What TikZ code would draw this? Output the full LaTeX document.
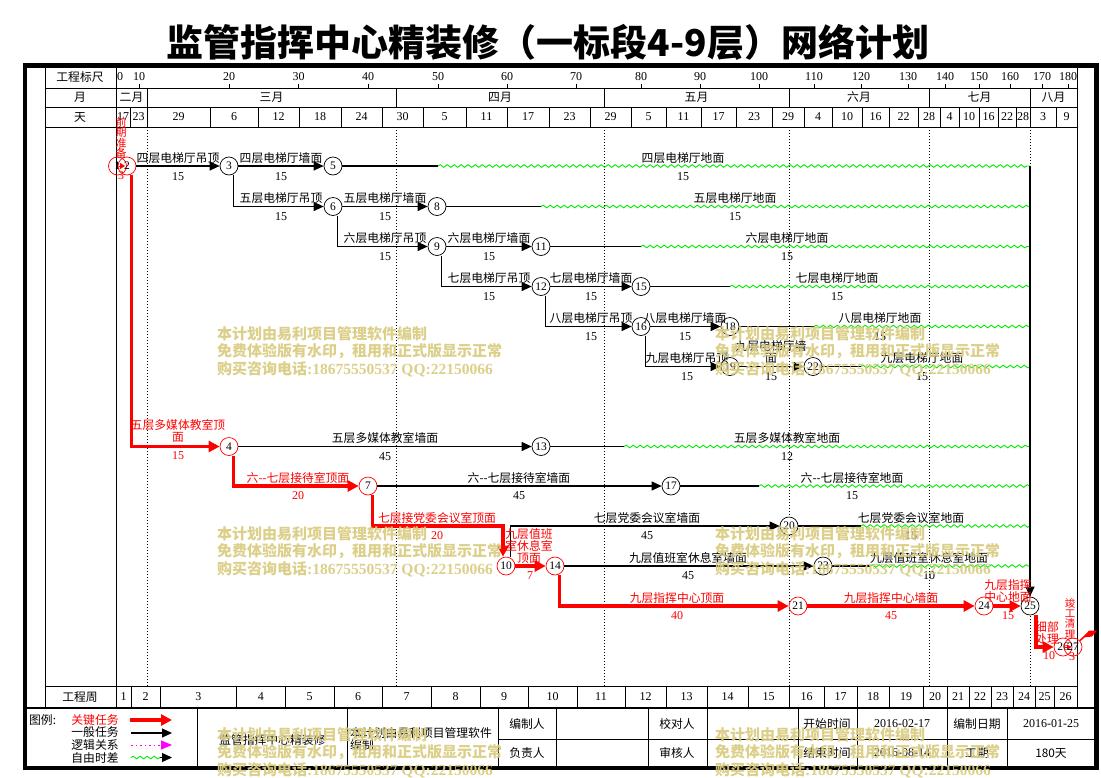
\documentclass[tikz,border=0pt]{standalone}
\usepackage{fontspec}
\setmainfont{Noto Sans CJK SC}
\newfontfamily\numf{Liberation Serif}
\usetikzlibrary{arrows.meta,decorations.pathmorphing,calc}
\definecolor{wmc}{RGB}{216,203,128}
\definecolor{grn}{RGB}{0,235,0}
\definecolor{mag}{RGB}{255,0,255}
\newcommand\wmark[3]{%
  \node[wm] (#1a) at (#2,#3) {本计划由易利项目管理软件编制};
  \node[wm] (#1b) at (#2,#3+17.5) {免费体验版有水印，租用和正式版显示正常};
  \node[wm] (#1c) at (#2,#3+35) {购买咨询电话{\numf\bfseries\fontsize{15.5}{15}\selectfont:18675550537 QQ:22150066}};}
\begin{document}
\begin{tikzpicture}[x=1pt,y=-1pt,
 lab/.style={font=\fontsize{11.8}{12}\selectfont, inner sep=0pt, align=center},
 rlab/.style={lab, text=red},
 dnum/.style={font=\numf\fontsize{12}{12}\selectfont, inner sep=0pt},
 rnum/.style={dnum, text=red},
 evt/.style={circle, draw=black, line width=0.7pt, fill=white, minimum size=18pt, inner sep=0pt, font=\numf\fontsize{11.5}{12}\selectfont},
 revt/.style={evt, draw=red},
 oevt/.style={evt, fill=none, draw=red},
 tedge/.style={line width=1.1pt, -{Triangle[length=10pt,width=9pt]}},
 crit/.style={line width=3.2pt, red, -{Triangle[length=11pt,width=11pt]}},
 flt/.style={line width=1.1pt},
 wave/.style={grn, line width=0.9pt, decorate, decoration={snake, amplitude=1.3pt, segment length=7pt}},
 gline/.style={line width=0.8pt},
 mline/.style={dash pattern=on 0.8pt off 2.2pt, line width=0.8pt},
 wm/.style={font=\fontsize{15}{15}\selectfont\bfseries, text=wmc, anchor=west, inner sep=0pt, text opacity=0.92}
]
\useasboundingbox (0,0) rectangle (1101,777);

% title
\node[font=\fontsize{37}{37}\selectfont\bfseries, inner sep=0pt] (title) at (548,42) {监管指挥中心精装修（一标段4-9层）网络计划};

% frame and grid
\draw[line width=4.5pt] (25,65.5) rectangle (1096.5,768);
\draw[gline] (45,65.5) -- (45,708);
\draw[gline] (116,65.5) -- (116,708);
\draw[gline] (1077,65.5) -- (1077,708);
\draw[gline] (45,88) -- (1077,88);
\draw[gline] (45,107) -- (1077,107);
\draw[gline] (45,127) -- (1077,127);
\draw[gline] (45,686) -- (1077,686);
\draw[line width=2.5pt] (25,708) -- (1096.5,708);

\node[lab] (h1) at (80,77) {工程标尺};
\node[lab] (h2) at (80,97.5) {月};
\node[lab] (h3) at (80,117) {天};
\node[lab] (h4) at (80,697) {工程周};

% scale ticks
\node[dnum] (t0) at (120,77) {0};
\foreach \x/\l [count=\i] in {139/10, 229/20, 298.5/30, 368/40, 438/50, 507/60, 576/70, 641/80, 700/90, 759/100, 814/110, 861/120, 908/130, 945/140, 979/150, 1010/160, 1042/170, 1068/180}{
  \draw[gline] (\x,83.5) -- (\x,88);
  \node[dnum] (tk\i) at (\x,77) {\l};
}
% months
\foreach \a/\b/\l [count=\i] in {116/147/二月, 147/396/三月, 396/604/四月, 604/789/五月, 789/929/六月, 929/1030/七月, 1030/1077/八月}{
  \draw[gline] (\a,88) -- (\a,107);
  \node[lab] (mo\i) at ({(\a+\b)/2},97.5) {\l};
}
% days
\foreach \a/\b/\l [count=\i] in {116/130/17, 130/147/23, 147/210/29, 210/258/6, 258/299/12, 299/341/18, 341/382/24, 382/423/30, 423/466/5, 466/507/11, 507/549/17, 549/590/23, 590/631/29, 631/666/5, 666/701/11, 701/736/17, 736/772/23, 772/804/29, 804/832/4, 832/862/10, 862/889/16, 889/918/22, 918/940/28, 940/959/4, 959/979/10, 979/998/16, 998/1016/22, 1016/1030/28, 1030/1056/3, 1056/1077/9}{
  \draw[gline] (\a,107) -- (\a,127);
  \node[dnum] (dy\i) at ({(\a+\b)/2},117) {\l};
}
% weeks
\foreach \a/\b [count=\i] in {116/131, 131/160, 160/236.5, 236.5/285, 285/334, 334/382, 382/431, 431/480, 480/528, 528/577, 577/625, 625/666, 666/707, 707/748, 748/789, 789/824, 824/857, 857/889, 889/923, 923/947, 947/969, 969/991, 991/1013, 1013/1035, 1035/1054, 1054/1077}{
  \draw[gline] (\a,686) -- (\a,708);
  \node[dnum] (wk\i) at ({(\a+\b)/2},696.5) {\i};
}
% month dotted lines
\foreach \x in {147,396,604,789,929,1030}{
  \draw[mline] (\x,127) -- (\x,686);
}

% events
\node[oevt] (n1) at (117.5,166) {1};
\node[oevt] (n2) at (127,166) {2};
\node[evt] (n3) at (229,166) {3};
\node[evt] (n5) at (333,166) {5};
\node[evt] (n6) at (333,206.5) {6};
\node[evt] (n8) at (437,206.5) {8};
\node[evt] (n9) at (437,246.5) {9};
\node[evt] (n11) at (541,246.5) {11};
\node[evt] (n12) at (541,286.5) {12};
\node[evt] (n15) at (641,286.5) {15};
\node[evt] (n16) at (641,326.5) {16};
\node[evt] (n18) at (730,326.5) {18};
\node[evt] (n19) at (730,366.5) {19};
\node[evt] (n22) at (813,366.5) {22};
\node[revt] (n4) at (229,446.5) {4};
\node[evt] (n13) at (541,446.5) {13};
\node[revt] (n7) at (368,486) {7};
\node[evt] (n17) at (671,486) {17};
\node[revt] (n10) at (506,566) {10};
\node[evt] (n20) at (789,526) {20};
\node[revt] (n14) at (555,566) {14};
\node[evt] (n23) at (823,566) {23};
\node[revt] (n21) at (798,606) {21};
\node[revt] (n24) at (984,606) {24};
\node[evt] (n25) at (1030,606) {25};
\node[oevt] (n26) at (1063,647) {26};
\node[oevt] (n27) at (1073,647) {27};

% ordinary activities
\draw[tedge] (n2) -- (n3);
\draw[tedge] (n3) -- (n5);
\draw[tedge] ([xshift=4.5pt]n3.south) |- (n6);
\draw[tedge] (n6) -- (n8);
\draw[tedge] ([xshift=4.5pt]n6.south) |- (n9);
\draw[tedge] (n9) -- (n11);
\draw[tedge] ([xshift=4.5pt]n9.south) |- (n12);
\draw[tedge] (n12) -- (n15);
\draw[tedge] ([xshift=4.5pt]n12.south) |- (n16);
\draw[tedge] (n16) -- (n18);
\draw[tedge] ([xshift=4.5pt]n16.south) |- (n19);
\draw[tedge] (n19) -- (n22);
\draw[tedge] (n4) -- (n13);
\draw[tedge] (n7) -- (n17);
\draw[tedge] ([xshift=4.5pt]n10.north) |- (n20);
\draw[tedge] (n14) -- (n23);

% activities with free float
\foreach \n/\x/\y in {5/438/166, 8/541/206.5, 11/641/246.5, 15/730/286.5, 18/814/326.5, 22/861/366.5, 13/624/446.5, 17/759/486, 20/861/526, 23/870/566}{
  \coordinate (f\n) at (\x,\y);
  \coordinate (e\n) at (1030,\y);
  \draw[flt] (n\n) -- (f\n);
  \draw[wave] (f\n) -- (e\n);
}
\coordinate (top25) at (1030,166);
\draw[tedge] (top25) -- (n25);

% critical path
\draw[red, line width=1pt, -{Triangle[length=5pt,width=6pt]}] ([xshift=1pt]n1.center) -- ([xshift=-2pt]n2.center);
\draw[crit] ([xshift=4.5pt]n2.south) |- (n4);
\draw[crit] ([xshift=4.5pt]n4.south) |- (n7);
\coordinate (c710) at (503,526);
\draw[crit] ([xshift=4.5pt]n7.south) |- (c710) -- (c710 |- n10.north);
\draw[crit] (n10) -- (n14);
\draw[crit] ([xshift=4.5pt]n14.south) |- (n21);
\draw[crit] (n21) -- (n24);
\draw[crit] (n24) -- (n25);
\draw[crit] ([xshift=6pt]n25.south) |- (n26);
\draw[red, line width=1pt, -{Triangle[length=4pt,width=5pt]}] ([xshift=2pt]n26.center) -- ([xshift=-2pt]n27.center);
\coordinate (fin) at (1086,635);
\draw[red, line width=1.5pt] (n27) -- (fin);
\fill[red] (1083,637.5) -- (1089,630.5) -- (1097,630.5) -- (1092,636.5) -- cycle;

% black labels
\node[lab] (a1) at (178,158) {四层电梯厅吊顶};   \node[dnum] (b1) at (178,176.5) {15};
\node[lab] (a2) at (281,158) {四层电梯厅墙面};   \node[dnum] (b2) at (281,176.5) {15};
\node[lab] (a3) at (683,158) {四层电梯厅地面};   \node[dnum] (b3) at (683,176.5) {15};
\node[lab] (a4) at (281,198) {五层电梯厅吊顶};   \node[dnum] (b4) at (281,216.5) {15};
\node[lab] (a5) at (385,198) {五层电梯厅墙面};   \node[dnum] (b5) at (385,216.5) {15};
\node[lab] (a6) at (735,198) {五层电梯厅地面};   \node[dnum] (b6) at (735,216.5) {15};
\node[lab] (a7) at (385,238) {六层电梯厅吊顶};   \node[dnum] (b7) at (385,256.5) {15};
\node[lab] (a8) at (489,238) {六层电梯厅墙面};   \node[dnum] (b8) at (489,256.5) {15};
\node[lab] (a9) at (787,238) {六层电梯厅地面};   \node[dnum] (b9) at (787,256.5) {15};
\node[lab] (a10) at (489,278) {七层电梯厅吊顶};  \node[dnum] (b10) at (489,296.5) {15};
\node[lab] (a11) at (591,278) {七层电梯厅墙面};  \node[dnum] (b11) at (591,296.5) {15};
\node[lab] (a12) at (837,278) {七层电梯厅地面};  \node[dnum] (b12) at (837,296.5) {15};
\node[lab] (a13) at (591,318) {八层电梯厅吊顶};  \node[dnum] (b13) at (591,336.5) {15};
\node[lab] (a14) at (685,318) {八层电梯厅墙面};  \node[dnum] (b14) at (685,336.5) {15};
\node[lab] (a15) at (880,318) {八层电梯厅地面};  \node[dnum] (b15) at (880,336.5) {15};
\node[lab] (a16) at (687,358) {九层电梯厅吊顶};  \node[dnum] (b16) at (687,376.5) {15};
\node[lab] (a17) at (771,352) {九层电梯厅墙\\面}; \node[dnum] (b17) at (771,376.5) {15};
\node[lab] (a18) at (922,358) {九层电梯厅地面};  \node[dnum] (b18) at (922,376.5) {15};
\node[lab] (a19) at (385,438) {五层多媒体教室墙面}; \node[dnum] (b19) at (385,456.5) {45};
\node[lab] (a20) at (787,438) {五层多媒体教室地面}; \node[dnum] (b20) at (787,456.5) {12};
\node[lab] (a21) at (519,478) {六-{}-七层接待室墙面}; \node[dnum] (b21) at (519,496) {45};
\node[lab] (a22) at (852,478) {六-{}-七层接待室地面}; \node[dnum] (b22) at (852,496) {15};
\node[lab] (a23) at (647,518) {七层党委会议室墙面}; \node[dnum] (b23) at (647,536) {45};
\node[lab] (a24) at (911,518) {七层党委会议室地面}; \node[dnum] (b24) at (911,536) {15};
\node[lab] (a25) at (688,558) {九层值班室休息室墙面}; \node[dnum] (b25) at (688,576) {45};
\node[lab] (a26) at (929,558) {九层值班室休息室地面}; \node[dnum] (b26) at (929,576) {10};

% red labels
\node[rlab, font=\fontsize{11}{10.5}\selectfont] (r0) at (121,138) {前\\期\\准\\备}; \node[rnum] (s0) at (121,176) {3};
\node[rlab] (r1) at (178,431) {五层多媒体教室顶\\面}; \node[rnum] (s1) at (178,456) {15};
\node[rlab] (r2) at (298,478) {六-{}-七层接待室顶面}; \node[rnum] (s2) at (298,496) {20};
\node[rlab] (r3) at (437,518) {七层接党委会议室顶面}; \node[rnum] (s3) at (437,536) {20};
\node[rlab] (r4) at (529,546.5) {九层值班\\室休息室\\顶面}; \node[rnum] (s4) at (530,576) {7};
\node[rlab] (r5) at (677,598) {九层指挥中心顶面}; \node[rnum] (s5) at (677,616) {40};
\node[rlab] (r6) at (891,598) {九层指挥中心墙面}; \node[rnum] (s6) at (891,616) {45};
\node[rlab] (r7) at (1008,591) {九层指挥\\中心地面}; \node[rnum] (s7) at (1008,616) {15};
\node[rlab] (r8) at (1047,633) {细部\\处理}; \node[rnum] (s8) at (1049,656) {10};
\node[rlab, font=\fontsize{10.5}{10.3}\selectfont] (r9) at (1070,618.5) {竣\\工\\清\\理}; \node[rnum] (s9) at (1072,657) {3};

% legend
\node[lab, anchor=west] (lg0) at (29,720) {图例:};
\node[rlab] (lg1) at (95,720) {关键任务};
\node[lab] (lg2) at (95,732.5) {一般任务};
\node[lab] (lg3) at (95,745) {逻辑关系};
\node[lab] (lg4) at (95,757.5) {自由时差};
\coordinate (la1) at (130,720); \coordinate (lb1) at (172,720);
\draw[crit] (la1) -- (lb1);
\coordinate (la2) at (131,733); \coordinate (lb2) at (172,733);
\draw[tedge] (la2) -- (lb2);
\coordinate (la3) at (131,745); \coordinate (lb3) at (172,745);
\draw[mag, dash pattern=on 1.5pt off 3pt, line width=0.9pt, -{Triangle[length=11pt,width=9pt]}] (la3) -- (lb3);
\coordinate (la4) at (131,757.5); \coordinate (lm4) at (160,757.5); \coordinate (lb4) at (172,757.5);
\draw[wave] (la4) -- (lm4);
\draw[tedge] (lm4) -- (lb4);

\foreach \x in {197,347.6,498,556,648,707,798,857,947,1007}{
  \draw[gline] (\x,708) -- (\x,768);
}
\draw[gline] (498,739) -- (1096.5,739);
\node[lab, anchor=west] (lt1) at (219,740) {监管指挥中心精装修};
\node[lab, anchor=west] (lt2) at (350,733) {本计划由易利项目管理软件};
\node[lab, anchor=west] (lt3) at (350,745) {编制};
\node[lab] (lt4) at (527,724) {编制人};
\node[lab] (lt5) at (527,753) {负责人};
\node[lab] (lt6) at (677,724) {校对人};
\node[lab] (lt7) at (677,753) {审核人};
\node[lab] (lt8) at (827,724) {开始时间};
\node[lab] (lt9) at (827,753) {结束时间};
\node[dnum] (lt10) at (902,724) {2016-02-17};
\node[dnum] (lt11) at (902,753) {2016-08-14};
\node[lab] (lt12) at (977,724) {编制日期};
\node[lab] (lt13) at (977,753) {工期};
\node[dnum] (lt14) at (1051,724) {2016-01-25};
\node[lab] (lt15) at (1051,753) {180天};

% watermarks
\wmark{wa}{217}{334}
\wmark{wb}{715}{334}
\wmark{wc}{217}{534}
\wmark{wd}{715}{534}
\wmark{we}{217}{735}
\wmark{wf}{715}{735}
\end{tikzpicture}
\end{document}
